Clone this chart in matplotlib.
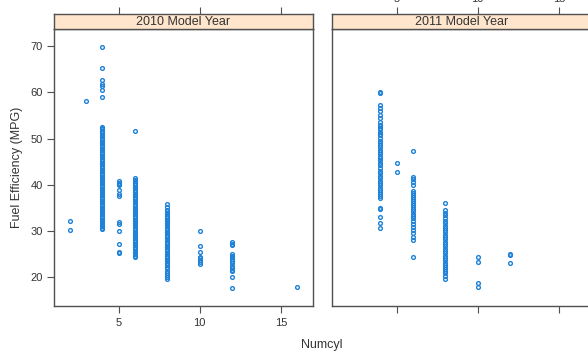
import matplotlib
matplotlib.use("Agg")
import matplotlib.pyplot as plt
import numpy as np

plt.rcParams['font.family'] = ['Liberation Sans', 'DejaVu Sans']

panel_titles = ["2010 Model Year", "2011 Model Year"]
x_ticks = [5, 10, 15]
y_ticks = [20, 30, 40, 50, 60, 70]

# ---- 2010 model year: MPG readings per cylinder count ----
mpg_2010_c2 = [30.3, 32.2]
mpg_2010_c3 = [58.2]
mpg_2010_c4 = [30.4, 30.7, 31.0, 31.4, 31.8, 32.1, 32.5, 32.9, 33.2, 33.6, 34.0, 34.3,
               34.7, 35.1, 35.5, 35.8, 36.2, 36.6, 37.0, 37.3, 37.7, 38.1, 38.5, 38.8,
               39.2, 39.6, 40.0, 40.3, 40.7, 41.1, 41.5, 41.8, 42.2, 42.6, 43.0, 43.3,
               43.7, 44.1, 44.5, 44.8, 45.2, 45.6, 46.0, 46.3, 46.7, 47.1, 47.5, 47.8,
               48.2, 48.6, 49.0, 49.3, 49.7, 50.1, 50.5, 50.8, 51.2, 51.6, 52.0, 52.3,
               52.6, 58.9, 60.6, 61.3, 61.9, 62.6, 65.3, 69.8]
mpg_2010_c5 = [25.2, 25.4, 27.2, 30.0, 31.6, 31.9, 37.6, 38.0, 38.8, 39.9, 40.2, 40.5, 40.8]
mpg_2010_c6 = [24.3, 24.6, 25.0, 25.4, 25.8, 26.1, 26.5, 26.9, 27.3, 27.6, 28.0, 28.4,
               28.8, 29.1, 29.5, 29.9, 30.3, 30.6, 31.0, 31.4, 31.8, 32.1, 32.5, 32.9,
               33.3, 33.6, 34.0, 34.4, 34.8, 35.1, 35.5, 35.9, 36.3, 36.6, 37.0, 37.4,
               37.8, 38.1, 38.5, 38.9, 39.3, 39.6, 40.0, 40.4, 40.8, 41.1, 41.5, 51.6]
mpg_2010_c8 = [19.7, 20.1, 20.6, 21.0, 21.4, 22.0, 22.3, 22.7, 23.1, 23.5, 23.8, 24.2,
               24.6, 25.0, 25.3, 25.7, 26.1, 26.5, 26.8, 27.2, 27.6, 28.0, 28.3, 28.7,
               29.1, 29.5, 29.8, 30.2, 30.6, 31.0, 31.3, 31.7, 32.1, 32.5, 32.8, 33.2,
               33.6, 34.0, 34.3, 34.6, 35.2, 35.9]
mpg_2010_c10 = [22.8, 23.4, 23.7, 24.1, 24.4, 25.4, 26.8, 30.1]
mpg_2010_c12 = [17.7, 20.1, 21.3, 21.6, 22.0, 22.5, 23.1, 23.5, 23.9, 24.3, 24.7, 25.0,
                26.9, 27.3, 27.6]
mpg_2010_c16 = [18.0]

# ---- 2011 model year ----
mpg_2011_c4 = [30.6, 31.8, 33.1, 34.8, 35.0, 37.2, 37.6, 38.0, 38.4, 38.9, 39.4, 39.9,
               40.4, 40.9, 41.5, 42.0, 42.6, 43.1, 43.6, 44.2, 44.7, 45.3, 45.8, 46.1,
               46.6, 47.2, 47.6, 48.2, 48.6, 49.0, 49.5, 50.1, 50.7, 51.1, 51.5, 52.0,
               52.3, 52.7, 53.0, 53.6, 54.4, 55.2, 55.9, 56.6, 57.3, 59.9, 60.1]
mpg_2011_c5 = [42.8, 44.7]
mpg_2011_c6 = [24.5, 28.1, 28.8, 29.5, 30.2, 30.9, 31.5, 32.2, 32.8, 33.3, 33.8, 34.3,
               34.7, 35.2, 35.6, 36.1, 36.5, 36.9, 37.3, 37.8, 38.2, 38.6, 40.0, 40.6,
               41.2, 41.7, 47.4]
mpg_2011_c8 = [19.6, 20.3, 20.9, 21.4, 21.8, 22.3, 22.7, 23.2, 23.7, 24.2, 24.7, 25.2,
               25.7, 26.2, 26.7, 27.2, 27.7, 28.2, 28.7, 29.2, 29.7, 30.2, 30.7, 31.2,
               31.7, 32.2, 32.8, 33.4, 34.0, 34.6, 36.1]
mpg_2011_c10 = [17.9, 18.8, 23.4, 24.5]
mpg_2011_c12 = [23.1, 24.8, 25.1]

groups_2010 = {2: mpg_2010_c2, 3: mpg_2010_c3, 4: mpg_2010_c4, 5: mpg_2010_c5,
               6: mpg_2010_c6, 8: mpg_2010_c8, 10: mpg_2010_c10, 12: mpg_2010_c12,
               16: mpg_2010_c16}
groups_2011 = {4: mpg_2011_c4, 5: mpg_2011_c5, 6: mpg_2011_c6, 8: mpg_2011_c8,
               10: mpg_2011_c10, 12: mpg_2011_c12}


def flatten(groups):
    xs, ys = [], []
    for c, vals in groups.items():
        xs += [c] * len(vals)
        ys += list(vals)
    return np.array(xs, float), np.array(ys, float)


W, H = 588, 354
fig = plt.figure(figsize=(W / 100, H / 100), dpi=100)
fig.patch.set_facecolor('white')

def fx(px):
    return px / W

def fy(py):
    return 1 - py / H

pan_top, pan_bot, strip_top = 29, 306, 14
pan_w = 259
lefts = [54, 332]
xlim = (1.02, 16.98)
ylim = (13.8, 73.7)
axis_col = '#505050'
text_col = '#333333'
pt_col = '#1f82d8'

for i, (groups, title) in enumerate(zip([groups_2010, groups_2011], panel_titles)):
    ax = fig.add_axes([fx(lefts[i]), fy(pan_bot), pan_w / W, (pan_bot - pan_top) / H])
    sax = fig.add_axes([fx(lefts[i]), fy(pan_top), pan_w / W, (pan_top - strip_top) / H])
    x, y = flatten(groups)
    ax.plot(x, y, linestyle='none', marker='o', markersize=2.7, markerfacecolor='none',
            markeredgecolor=pt_col, markeredgewidth=1.0)
    ax.set_xlim(*xlim)
    ax.set_ylim(*ylim)
    sax.set_xlim(*xlim)
    sax.set_ylim(0, 1)
    sax.set_facecolor('#ffe5cc')
    sax.text(0.5, 0.45, title, transform=sax.transAxes, ha='center', va='center',
             fontsize=9, color=text_col)
    for a in (ax, sax):
        for s in a.spines.values():
            s.set_color(axis_col)
            s.set_linewidth(1.0)
    sax.set_yticks([])
    sax.set_xticks(x_ticks)
    sax.tick_params(axis='x', which='both', bottom=False, labelbottom=False, top=True,
                    labeltop=(i == 1), direction='out', length=5, color=axis_col,
                    labelsize=8, labelcolor=text_col, pad=2)
    ax.set_xticks(x_ticks)
    ax.tick_params(axis='x', direction='out', length=5, color=axis_col,
                   labelbottom=(i == 0), labelsize=8, labelcolor=text_col, pad=4)
    if i == 0:
        ax.set_yticks(y_ticks)
        ax.tick_params(axis='y', direction='out', length=5, color=axis_col, labelsize=8,
                       labelcolor=text_col, pad=3)
    else:
        ax.set_yticks([])

fig.text(fx(322), fy(345), "Numcyl", ha='center', va='center', fontsize=9, color=text_col)
fig.text(fx(17), fy(167), "Fuel Efficiency (MPG)", ha='center', va='center',
         rotation=90, fontsize=9, color=text_col)

fig.savefig("out.png", dpi=100)
